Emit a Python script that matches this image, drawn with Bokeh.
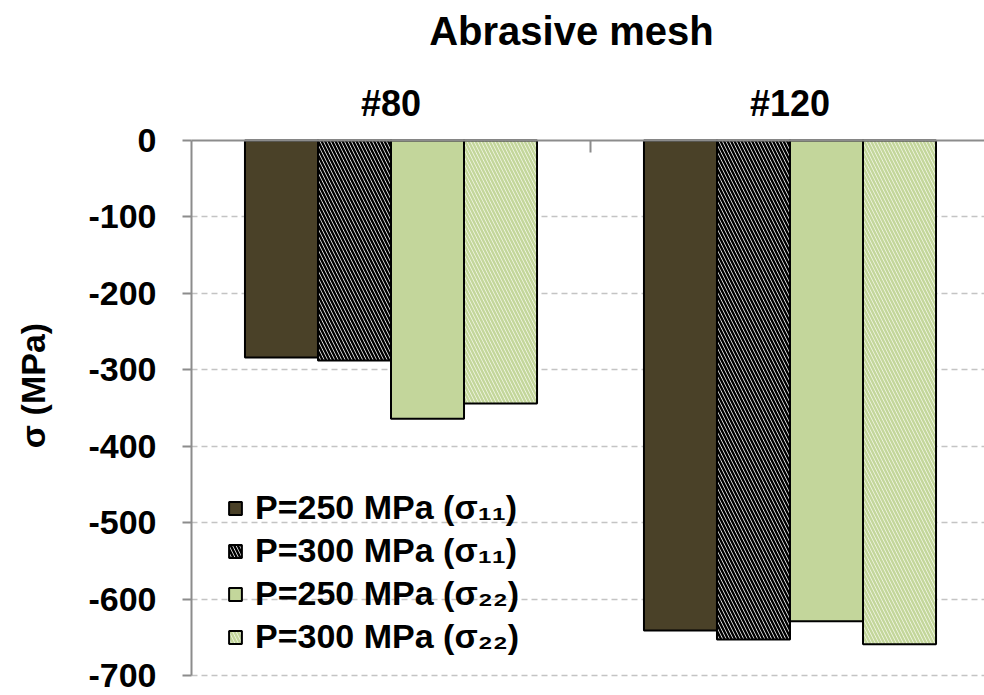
import math
from bokeh.plotting import figure
from bokeh.models import (Range1d, FixedTicker, LinearAxis, Legend, LegendItem, Grid, Label,
                          BoxAnnotation)
from bokeh.embed import file_html
from bokeh.resources import INLINE

# ---- data ----
categories = ["#80", "#120"]
series_labels = ["P=250 MPa (σ₁₁)", "P=300 MPa (σ₁₁)", "P=250 MPa (σ₂₂)", "P=300 MPa (σ₂₂)"]
p250_s11 = [-284, -641]
p300_s11 = [-288, -653]
p250_s22 = [-364, -629]
p300_s22 = [-344, -659]
y_ticks = [0, -100, -200, -300, -400, -500, -600, -700]
chart_title = "Abrasive mesh"
y_title = "σ (MPa)"

FONT = "Liberation Sans"
AXIS_GRAY = "#8C8C8C"

# ---- layout (pixels) ----
W, H = 984, 695
AXIS_X, ZERO_Y, BOTTOM_Y = 191, 140, 675      # y axis position, zero line, -700 line
CAT_PX = 399                                    # width of one category
Y_MIN, Y_MAX = min(y_ticks), max(y_ticks)
ypx = (BOTTOM_Y - ZERO_Y) / (Y_MAX - Y_MIN)     # pixels per MPa

x_range = Range1d(-AXIS_X / CAT_PX, (W - AXIS_X) / CAT_PX)
y_range = Range1d(Y_MIN - (H - BOTTOM_Y) / ypx, Y_MAX + ZERO_Y / ypx)

def px_x(sx):
    return (sx - AXIS_X) / CAT_PX

def px_y(sy):
    return (ZERO_Y - sy) / ypx

p = figure(width=W, height=H, x_range=x_range, y_range=y_range,
           output_backend="svg", toolbar_location=None,
           x_axis_location=None, y_axis_location=None,
           min_border_left=0, min_border_right=0, min_border_top=0, min_border_bottom=0)
p.outline_line_color = None
p.background_fill_color = "white"
for r in list(p.center):
    if isinstance(r, Grid):
        p.center.remove(r)

grid = Grid(dimension=1, ticker=FixedTicker(ticks=y_ticks[1:]),
            grid_line_color="#C4C4C4", grid_line_width=1.5, grid_line_dash="6 4")
try:
    grid.cross_bounds = (0, x_range.end)
    p.add_layout(grid)
except Exception:
    p.add_layout(grid)
    p.add_layout(BoxAnnotation(right=0, fill_color="white", fill_alpha=1.0,
                               line_alpha=0, level="underlay"))

series = [p250_s11, p300_s11, p250_s22, p300_s22]
styles = [
    dict(fill_color="#4A4128"),
    dict(fill_color="white", hatch_pattern="\\", hatch_color="black", hatch_scale=7, hatch_weight=2.4),
    dict(fill_color="#C3D69B"),
    dict(fill_color="#F4F8E8", hatch_pattern="\\", hatch_color="#C3D69B", hatch_scale=7, hatch_weight=2.4),
]
bar_w = 0.183
items = []
for k, (vals, st, lab) in enumerate(zip(series, styles, series_labels)):
    xs = [i + 0.5 + (k - 1.5) * bar_w for i in range(len(categories))]
    r = p.vbar(x=xs, top=vals, bottom=0, width=bar_w, line_color="black", line_width=2, **st)
    items.append(LegendItem(label=lab, renderers=[r]))

# y axis at x = 0
yax = LinearAxis(ticker=FixedTicker(ticks=y_ticks), fixed_location=0, bounds=(Y_MIN, Y_MAX),
                 major_label_overrides={v: str(v) for v in y_ticks})
yax.axis_line_color = AXIS_GRAY
yax.axis_line_width = 2
yax.major_tick_out = 9
yax.major_tick_in = 0
yax.minor_tick_out = 0
yax.major_tick_line_color = AXIS_GRAY
yax.major_tick_line_width = 2
yax.major_label_text_font = FONT
yax.major_label_text_font_size = "34px"
yax.major_label_text_font_style = "bold"
yax.major_label_text_color = "black"
yax.major_label_standoff = 26
p.add_layout(yax, "left")

# category axis at y = 0 (labels above)
xax = LinearAxis(ticker=FixedTicker(ticks=[i + 0.5 for i in range(len(categories))],
                                    minor_ticks=[1.0]),
                 fixed_location=0, bounds=(0, x_range.end + 1),
                 major_label_overrides={i + 0.5: c for i, c in enumerate(categories)})
xax.axis_line_color = AXIS_GRAY
xax.axis_line_width = 2
xax.major_tick_in = 0
xax.major_tick_out = 0
xax.minor_tick_in = 12
xax.minor_tick_out = 0
xax.minor_tick_line_color = AXIS_GRAY
xax.minor_tick_line_width = 2
xax.major_label_text_font = FONT
xax.major_label_text_font_size = "36px"
xax.major_label_text_font_style = "bold"
xax.major_label_text_color = "black"
xax.major_label_standoff = 17
p.add_layout(xax, "above")

# titles
p.add_layout(Label(text=chart_title, x=px_x(571), y=px_y(30),
                   text_align="center", text_baseline="middle", text_font=FONT,
                   text_font_size="40px", text_font_style="bold", text_color="black"))
p.add_layout(Label(text=y_title, x=px_x(32), y=px_y(385), angle=math.pi / 2,
                   text_align="center", text_baseline="middle", text_font=FONT,
                   text_font_size="34px", text_font_style="bold", text_color="black"))

legend = Legend(items=items, location=(AXIS_X + 36, H - BOTTOM_Y + 19), orientation="vertical",
                label_text_font=FONT, label_text_font_size="34px", label_text_font_style="bold",
                label_text_color="black", glyph_width=16, glyph_height=16, label_standoff=12,
                spacing=4, padding=0, margin=0, border_line_alpha=0, background_fill_alpha=0,
                label_height=36)
p.add_layout(legend)

open("out.html", "w").write(file_html(p, INLINE))
